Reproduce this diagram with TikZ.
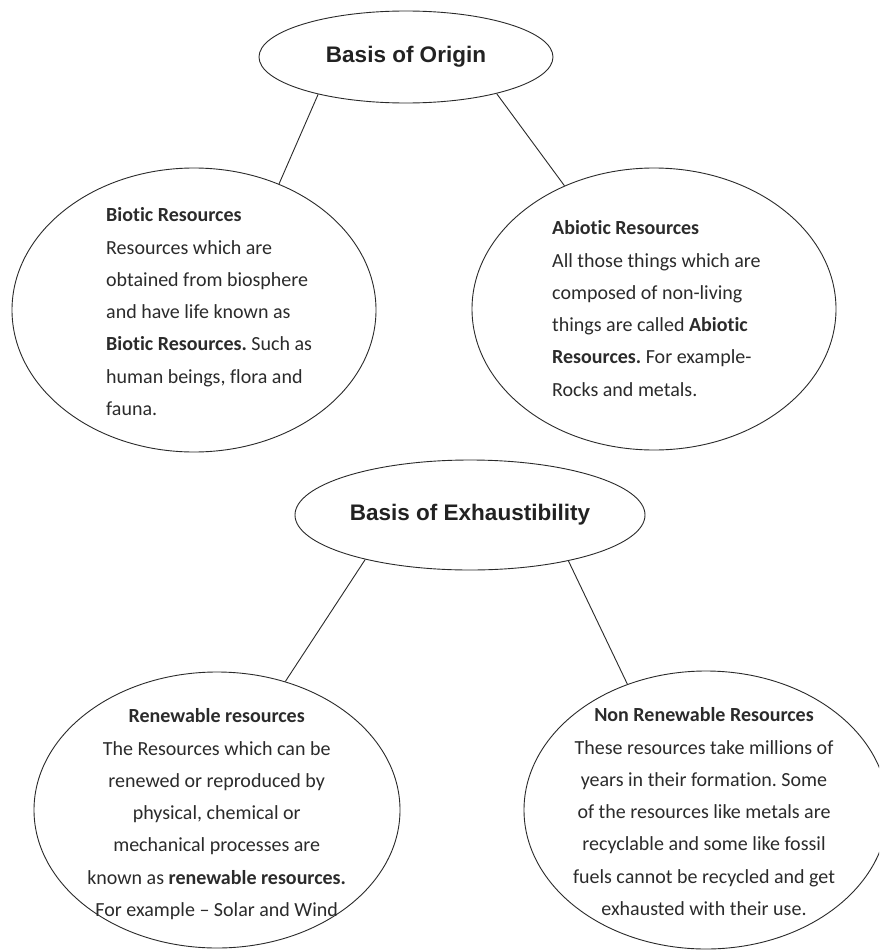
\documentclass[tikz,border=0pt]{standalone}
\usepackage{fontspec}
\setmainfont{Carlito}[Ligatures=NoCommon]
\newfontfamily\arialfont{Liberation Sans}
\usetikzlibrary{shapes.geometric}
\definecolor{edge}{HTML}{2A2A2A}
\definecolor{bodytext}{HTML}{2B2B2B}
\definecolor{titletext}{HTML}{222222}
\frenchspacing
\tikzset{
  oval/.style={draw=edge, line width=0.9pt, shape=ellipse, inner sep=0pt},
  titletxt/.style={font=\arialfont\bfseries\fontsize{22.5}{26}\selectfont, text=titletext},
  bodytxt/.style={font=\fontsize{20}{32.3}\selectfont, text=bodytext, inner sep=0pt},
  link/.style={draw=edge, line width=0.9pt}
}
\begin{document}
\begin{tikzpicture}[x=1pt,y=-1pt]
\fill[white] (0,0) rectangle (879,950);
\clip (0,0) rectangle (879,950);
% ellipses
\node[oval, minimum width=294pt, minimum height=92pt, titletxt] (origin) at (406,57) {Basis of Origin};
\node[oval, minimum width=364pt, minimum height=284pt] (biotic) at (194,310) {};
\node[oval, minimum width=364pt, minimum height=282pt] (abiotic) at (654,309) {};
\node[oval, minimum width=350pt, minimum height=110pt, titletxt] (exhaust) at (470,515) {Basis of Exhaustibility};
\node[oval, minimum width=366pt, minimum height=276pt] (renew) at (217,810) {};
\node[oval, minimum width=364pt, minimum height=278pt] (nonrenew) at (706,810) {};
% connectors
\draw[link] (origin.203) -- (biotic.56);
\draw[link] (origin.338) -- (abiotic.126.5);
\draw[link] (exhaust.203.7) -- (renew.62.7);
\draw[link] (exhaust.335.3) -- (nonrenew.122.9);
% texts
\node[bodytxt, anchor=north west, align=left] (bioticText) at (106,207.5) {\textbf{Biotic Resources}\\
Resources which are\\
obtained from biosphere\\
and have life known as\\
\textbf{Biotic Resources.} Such as\\
human beings, flora and\\
fauna.};
\node[bodytxt, anchor=north west, align=left] (abioticText) at (552,220.5) {\textbf{Abiotic Resources}\\
All those things which are\\
composed of non-living\\
things are called \textbf{Abiotic}\\
\textbf{Resources.} For example-\\
Rocks and metals.};
\node[bodytxt, anchor=north, align=center] (renewText) at (216.7,708.5) {\textbf{Renewable resources}\\
The Resources which can be\\
renewed or reproduced by\\
physical, chemical or\\
mechanical processes are\\
known as \textbf{renewable resources.}\\
For example -- Solar and Wind};
\node[bodytxt, anchor=north, align=center] (nonrenewText) at (704,707.5) {\textbf{Non Renewable Resources}\\
These resources take millions of\\
years in their formation. Some\\
of the resources like metals are\\
recyclable and some like fossil\\
fuels cannot be recycled and get\\
exhausted with their use.};
\end{tikzpicture}
\end{document}
